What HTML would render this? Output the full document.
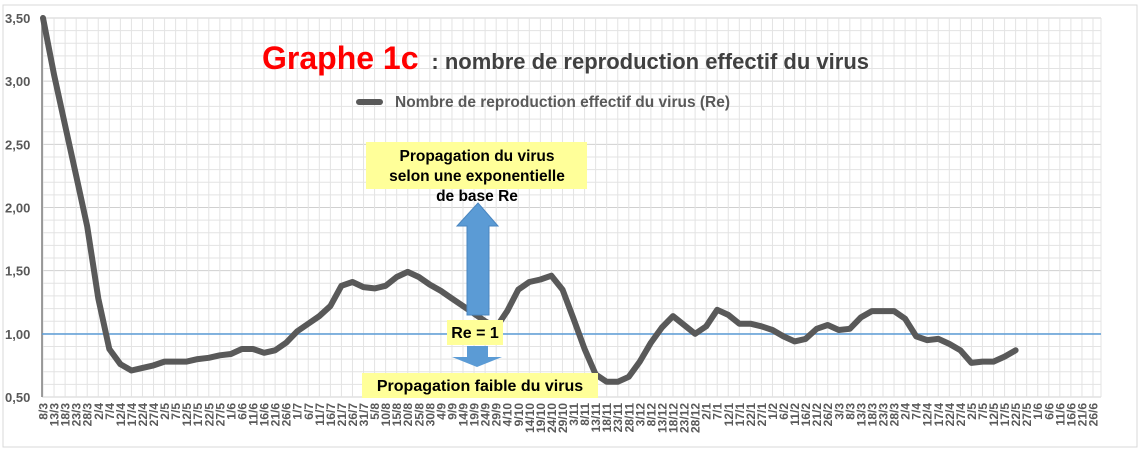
<!DOCTYPE html>
<html><head><meta charset="utf-8"><style>
html,body{margin:0;padding:0;background:#fff;}
svg{display:block;font-family:"Liberation Sans",Arial,sans-serif;}
</style></head><body>
<svg id="chart" width="1140" height="460" viewBox="0 0 1140 460">
<rect x="0" y="0" width="1140" height="460" fill="#fff"/>
<rect x="3" y="5" width="1134" height="442" fill="#fff" stroke="#d9d9d9"/>
<g id="grid"></g>
<g id="yaxis"></g>
<g id="xaxis"></g>
<line x1="42" y1="334" x2="1101" y2="334" stroke="#5b9bd5" stroke-width="1.6"/>
<path id="series" fill="none" stroke="#595959" stroke-width="6" stroke-linejoin="round" stroke-linecap="round"/>
<text x="262" y="69" font-size="32" font-weight="bold" fill="#ff0000">Graphe 1c <tspan font-size="22" fill="#404040" dx="4">: nombre de reproduction effectif du virus</tspan></text>
<line x1="359" y1="102" x2="380" y2="102" stroke="#595959" stroke-width="6" stroke-linecap="round"/>
<text x="395" y="107" font-size="15.5" font-weight="bold" fill="#595959">Nombre de reproduction effectif du virus (Re)</text>
<rect x="366" y="142" width="221" height="47" fill="#ffff99"/>
<text font-size="15.5" font-weight="bold" fill="#000" text-anchor="middle"><tspan x="477" y="161">Propagation du virus</tspan><tspan x="477" y="181">selon une exponentielle</tspan><tspan x="477" y="201">de base Re</tspan></text>
<polygon points="478,203 498,226 489,226 489,315 467,315 467,226 457,226" fill="#5b9bd5" stroke="#4a86c0"/>
<rect x="447" y="320" width="56" height="25" fill="#ffff99"/>
<text x="475" y="338" font-size="16" font-weight="bold" text-anchor="middle">Re = 1</text>
<polygon points="467,346 488,346 488,357 502,357 477,367 452,357 467,357" fill="#5b9bd5"/>
<rect x="362" y="373" width="236" height="25" fill="#ffff99"/>
<text x="480" y="391" font-size="16" font-weight="bold" text-anchor="middle">Propagation faible du virus</text>
</svg>
<script>
const dates=["8/3","13/3","18/3","23/3","28/3","2/4","7/4","12/4","17/4","22/4","27/4","2/5","7/5","12/5","17/5","22/5","27/5","1/6","6/6","11/6","16/6","21/6","26/6","1/7","6/7","11/7","16/7","21/7","26/7","31/7","5/8","10/8","15/8","20/8","25/8","30/8","4/9","9/9","14/9","19/9","24/9","29/9","4/10","9/10","14/10","19/10","24/10","29/10","3/11","8/11","13/11","18/11","23/11","28/11","3/12","8/12","13/12","18/12","23/12","28/12","2/1","7/1","12/1","17/1","22/1","27/1","1/2","6/2","11/2","16/2","21/2","26/2","3/3","8/3","13/3","18/3","23/3","28/3","2/4","7/4","12/4","17/4","22/4","27/4","2/5","7/5","12/5","17/5","22/5","27/5","1/6","6/6","11/6","16/6","21/6","26/6"];
const reValues=[3.50,3.05,2.65,2.25,1.85,1.28,0.88,0.76,0.71,0.73,0.75,0.78,0.78,0.78,0.80,0.81,0.83,0.84,0.88,0.88,0.85,0.87,0.93,1.02,1.08,1.14,1.22,1.38,1.41,1.37,1.36,1.38,1.45,1.49,1.45,1.39,1.34,1.28,1.22,1.16,1.10,1.05,1.18,1.35,1.41,1.43,1.46,1.35,1.12,0.88,0.68,0.62,0.62,0.66,0.78,0.93,1.05,1.14,1.07,1.00,1.06,1.19,1.15,1.08,1.08,1.06,1.03,0.98,0.94,0.96,1.04,1.07,1.03,1.04,1.13,1.18,1.18,1.18,1.12,0.98,0.95,0.96,0.92,0.87,0.77,0.78,0.78,0.82,0.87];
const yTicks=[0.5,1.0,1.5,2.0,2.5,3.0,3.5];
const yTickLabels=["0,50","1,00","1,50","2,00","2,50","3,00","3,50"];
const NS="http://www.w3.org/2000/svg";
const X0=43,X1=1093,Y0=397,Y1=18,VMIN=0.5,VMAX=3.5;
function xs(i){return X0+(X1-X0)*i/(dates.length-1);}
function ys(v){return Y0-(v-VMIN)/(VMAX-VMIN)*(Y0-Y1);}
const grid=document.getElementById('grid');
for(let v=0.5;v<=3.5001;v+=0.1){
  const l=document.createElementNS(NS,'line');
  
  
  const yy=ys(v);
  l.setAttribute('x1',42);l.setAttribute('x2',1101);l.setAttribute('y1',yy);l.setAttribute('y2',yy);
  l.setAttribute('stroke',Math.abs((v*2)-Math.round(v*2))<0.01?'#d0d0d0':'#e3e3e3');l.setAttribute('stroke-width','1');
  grid.appendChild(l);
}
for(let i=0;i<dates.length+1;i++){
  const l=document.createElementNS(NS,'line');
  
  
  const xx=Math.min(xs(i),1101);
  l.setAttribute('x1',xx);l.setAttribute('x2',xx);l.setAttribute('y1',Y1);l.setAttribute('y2',Y0);
  l.setAttribute('stroke','#e3e3e3');
  grid.appendChild(l);
}
const ax=document.getElementById('yaxis');
const al=document.createElementNS(NS,'line');


al.setAttribute('x1',42);al.setAttribute('x2',42);al.setAttribute('y1',Y1);al.setAttribute('y2',Y0);al.setAttribute('stroke','#7f7f7f');al.setAttribute('stroke-width','1.5');
ax.appendChild(al);
yTicks.forEach((v,k)=>{
  const t=document.createElementNS(NS,'text');
  
  
  t.setAttribute('x',5);t.setAttribute('y',ys(v)+5);t.setAttribute('font-size','13');t.setAttribute('font-weight','bold');t.setAttribute('fill','#595959');
  t.textContent=yTickLabels[k];ax.appendChild(t);
});
const xa=document.getElementById('xaxis');
dates.forEach((d,i)=>{
  const t=document.createElementNS(NS,'text');
  
  
  const xx=xs(i)+4.5;
  t.setAttribute('transform','translate('+xx+',403) rotate(-90)');
  t.setAttribute('text-anchor','end');t.setAttribute('font-size','12');t.setAttribute('font-weight','bold');t.setAttribute('fill','#595959');
  t.textContent=d;xa.appendChild(t);
});
let dstr='';
reValues.forEach((v,i)=>{dstr+=(i?'L':'M')+xs(i).toFixed(1)+','+ys(v).toFixed(1);});
document.getElementById('series').setAttribute('d',dstr);
</script>
</body></html>
